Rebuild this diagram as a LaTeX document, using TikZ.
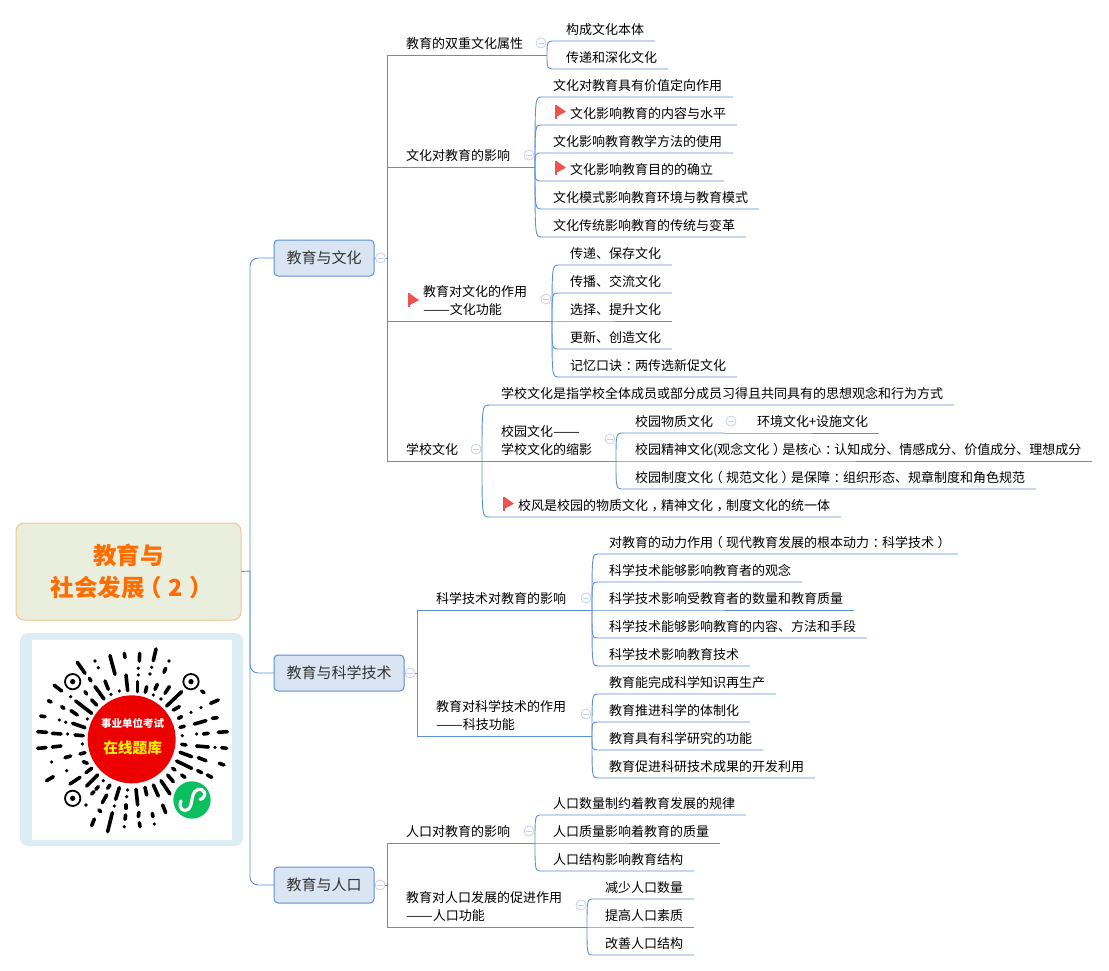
\documentclass[tikz,border=0pt]{standalone}
\usepackage{fontspec}
\setmainfont{Noto Sans CJK SC}
\usetikzlibrary{positioning}

\definecolor{linkblue}{HTML}{5B8FD6}
\definecolor{foldblue}{HTML}{C3D1EE}
\definecolor{topicfill}{HTML}{DAE5F3}
\definecolor{rootfill}{HTML}{E9EFDC}
\definecolor{rootline}{HTML}{F9C28F}
\definecolor{flagred}{HTML}{F0524F}
\definecolor{framecol}{HTML}{DCEDF3}
\definecolor{wxgreen}{HTML}{0BBF5F}

\newcommand{\pushl}[1]{\kern-.25em#1\kern.25em}
\newcommand{\pushr}[1]{\kern.28em#1\kern-.28em}
\newcommand{\longdash}{\scalebox{1.23}[1]{——}}

\begin{document}
\begin{tikzpicture}[x=1pt,y=-1pt,font=\fontsize{13pt}{18pt}\selectfont,outer sep=0pt]
  \tikzset{
    link/.style={draw=linkblue,line width=.9pt},
    root/.style={
      draw=rootline,
      fill=rootfill,
      line width=1pt,
      rounded corners=8pt,
      minimum width=225pt,
      minimum height=97pt,
      align=center,
      text=orange!85!red,
      font=\fontsize{23.5pt}{32pt}\selectfont\bfseries},
    topic/.style={
      draw=linkblue,
      fill=topicfill,
      line width=1pt,
      rounded corners=4pt,
      inner xsep=12.5pt,
      inner ysep=0pt,
      text height=23.7pt,
      text depth=12.3pt,
      anchor=west,
      text=black!80,
      font=\fontsize{15pt}{18pt}\selectfont},
    branch/.style={
      anchor=south west,
      inner xsep=0pt,
      inner ysep=5pt,
      text width=#1,
      align=left},
    leaf/.style={
      anchor=south west,
      inner xsep=11pt,
      inner ysep=0pt,
      text height=21.7pt,
      text depth=6.3pt},
    flagleaf/.style={
      leaf,
      execute at begin node={\hspace*{17pt}}},
    stack/.style={
      below=0pt of #1.south west,
      anchor=north west},
    fold/.style={
      circle,
      draw=foldblue,
      fill=white,
      line width=.8pt,
      minimum size=10pt,
      inner sep=0pt,
      path picture={\draw[foldblue,line width=.8pt]
        ([xshift=-3pt]path picture bounding box.center) --
        ([xshift=3pt]path picture bounding box.center);}},
    redflag/.pic={
      \fill[flagred] (-.5,-6) rectangle (1.5,8);
      \fill[flagred] (1.5,-6) -- (11,.7) -- (1.5,5.7) -- cycle;}}

  \useasboundingbox (0,0) rectangle (1109,971);

  % root and picture
  \node[root] (main) at (128.5,571.5) {教育与\\社会发展\pushl{（}2\pushr{）}};
  \coordinate (hub) at (250,571);

  \node[topic] (cult) at (274,258) {教育与文化};
  \node[topic] (tech) at (274,673) {教育与科学技术};
  \node[topic] (popu) at (274,885) {教育与人口};

  \coordinate (culthub) at (387,258);
  \coordinate (techhub) at (417,673);
  \coordinate (popuhub) at (387,885);

  % culture
  \node[branch=141pt] (dual) at (406,55) {教育的双重文化属性};
  \node[leaf] (dual1) at (555,41) {构成文化本体};
  \node[leaf,stack=dual1] (dual2) {传递和深化文化};

  \node[branch=129pt] (infl) at (406,167) {文化对教育的影响};
  \node[leaf] (infl1) at (542,97) {文化对教育具有价值定向作用};
  \node[flagleaf,stack=infl1] (infl2) {文化影响教育的内容与水平};
  \node[leaf,stack=infl2] (infl3) {文化影响教育教学方法的使用};
  \node[flagleaf,stack=infl3] (infl4) {文化影响教育目的的确立};
  \node[leaf,stack=infl4] (infl5) {文化模式影响教育环境与教育模式};
  \node[leaf,stack=infl5] (infl6) {文化传统影响教育的传统与变革};

  \node[branch=129pt] (func) at (423,321) {教育对文化的作用\\\longdash 文化功能};
  \node[leaf] (func1) at (559,265) {传递、保存文化};
  \node[leaf,stack=func1] (func2) {传播、交流文化};
  \node[leaf,stack=func2] (func3) {选择、提升文化};
  \node[leaf,stack=func3] (func4) {更新、创造文化};
  \node[leaf,stack=func4] (func5) {记忆口诀\pushr{：}两传选新促文化};

  \node[branch=76pt] (scho) at (406,461) {学校文化};
  \node[leaf] (scho1) at (490,405) {学校文化是指学校全体成员或部分成员习得且共同具有的思想观念和行为方式};
  \node[branch=115pt] (camp) at (501,461) {校园文化\longdash\\学校文化的缩影};
  \node[flagleaf] (scho3) at (490,517) {校风是校园的物质文化\pushr{，}精神文化\pushr{，}制度文化的统一体};
  \node[leaf] (camp1) at (624,433) {校园物质文化};
  \node[leaf,stack=camp1] (camp2) {校园精神文化(观念文化\pushr{）}是核心\pushr{：}认知成分、情感成分、价值成分、理想成分};
  \node[leaf,stack=camp2] (camp3) {校园制度文化\pushl{（}规范文化\pushr{）}是保障\pushr{：}组织形态、规章制度和角色规范};
  \node[leaf] (camp4) at (746,433) {环境文化+设施文化};

  % science
  \node[branch=156pt] (driv) at (436,610) {科学技术对教育的影响};
  \node[leaf] (driv1) at (598,554) {对教育的动力作用\pushl{（}现代教育发展的根本动力\pushr{：}科学技术\pushr{）}};
  \node[leaf,stack=driv1] (driv2) {科学技术能够影响教育者的观念};
  \node[leaf,stack=driv2] (driv3) {科学技术影响受教育者的数量和教育质量};
  \node[leaf,stack=driv3] (driv4) {科学技术能够影响教育的内容、方法和手段};
  \node[leaf,stack=driv4] (driv5) {科学技术影响教育技术};

  \node[branch=156pt] (tfun) at (436,736) {教育对科学技术的作用\\\longdash 科技功能};
  \node[leaf] (tfun1) at (598,694) {教育能完成科学知识再生产};
  \node[leaf,stack=tfun1] (tfun2) {教育推进科学的体制化};
  \node[leaf,stack=tfun2] (tfun3) {教育具有科学研究的功能};
  \node[leaf,stack=tfun3] (tfun4) {教育促进科研技术成果的开发利用};

  % population
  \node[branch=129pt] (pinf) at (406,843) {人口对教育的影响};
  \node[leaf] (pinf1) at (542,815) {人口数量制约着教育发展的规律};
  \node[leaf,stack=pinf1] (pinf2) {人口质量影响着教育的质量};
  \node[leaf,stack=pinf2] (pinf3) {人口结构影响教育结构};

  \node[branch=181pt] (pfun) at (406,927) {教育对人口发展的促进作用\\\longdash 人口功能};
  \node[leaf] (pfun1) at (594,899) {减少人口数量};
  \node[leaf,stack=pfun1] (pfun2) {提高人口素质};
  \node[leaf,stack=pfun2] (pfun3) {改善人口结构};

  % connectors
  \draw[link] (main.east) -- (hub);
  \draw[link,rounded corners=8pt] (cult.west) -| (hub) |- (popu.west);
  \draw[link,rounded corners=8pt] (hub) |- (tech.west);

  \draw[link] (cult.east) -- (culthub);
  \draw[link] (tech.east) -- (techhub);
  \draw[link] (popu.east) -- (popuhub);
  \draw[link] (culthub |- dual.south) -- (culthub |- scho.south);
  \draw[link] (techhub |- driv.south) -- (techhub |- tfun.south);
  \draw[link] (popuhub |- pinf.south) -- (popuhub |- pfun.south);

  \foreach \b/\h in {dual/culthub,infl/culthub,func/culthub,scho/culthub,
      driv/techhub,tfun/techhub,pinf/popuhub,pfun/popuhub}
    \draw[link] (\h |- \b.south) -- (\b.south east);
  \draw[link] (scho.south east) -- (camp.south east);

  \foreach \b/\l in {dual/dual1,dual/dual2,
      infl/infl1,infl/infl2,infl/infl3,infl/infl4,infl/infl5,infl/infl6,
      func/func1,func/func2,func/func3,func/func4,func/func5,
      scho/scho1,scho/scho3,camp/camp1,camp/camp2,camp/camp3,
      driv/driv1,driv/driv2,driv/driv3,driv/driv4,driv/driv5,
      tfun/tfun1,tfun/tfun2,tfun/tfun3,tfun/tfun4,
      pinf/pinf1,pinf/pinf2,pinf/pinf3,
      pfun/pfun1,pfun/pfun2,pfun/pfun3}
    \draw[link] (\b.south east) .. controls (\b.south east |- \l.south west) .. (\l.south west) -- (\l.south east);
  \draw[link] (camp1.south east) -- (camp4.south west) -- (camp4.south east);

  % fold marks
  \node[fold] (fcult) at ([xshift=6.5pt]cult.east) {};
  \node[fold] (ftech) at ([xshift=6pt]tech.east) {};
  \node[fold] (fpopu) at ([xshift=6pt]popu.east) {};
  \foreach \b in {dual,infl,scho,driv,pinf}
    \node[fold] (f\b) at ([xshift=-6pt,yshift=12pt]\b.south east) {};
  \foreach \b in {func,camp,tfun,pfun}
    \node[fold] (f\b) at ([xshift=-6pt,yshift=22pt]\b.south east) {};
  \node[fold] (fcamp1) at ([xshift=7pt,yshift=12pt]camp1.south east) {};

  % flags
  \foreach \l in {infl2,infl4,scho3}
    \pic at ([xshift=13pt]\l.west) {redflag};
  \pic at ([xshift=-15pt,yshift=1.5pt]func.west) {redflag};

  % code picture
  \fill[framecol,rounded corners=8pt] (20,633) rectangle (243,846);
  \fill[white] (32,640) rectangle (232,840);
  \begin{scope}[shift={(0,500)},x=1pt/3,y=-1pt/3]
    \foreach \xa/\ya/\xb/\yb in {232/487/255/520,285/483/285/483,295/503/295/503,330/467/345/523,
        373/460/375/473,419/460/418/483,468/447/460/482,507/483/507/483,497/505/492/517,
        415/505/415/505,415/525/415/525,455/502/455/502,450/522/450/522,378/525/383/572,
        315/543/325/568,268/535/273/543,163/556/185/573,255/575/260/582,285/560/312/597,
        333/583/333/583,358/573/358/573,413/545/413/575,440/560/436/577,472/553/465/568,
        460/585/460/585,508/560/495/580,545/575/500/618,483/597/483/597,605/573/612/578,
        227/603/275/640,275/600/290/615,212/590/212/590,145/602/153/606,185/620/192/625,
        213/632/232/645,655/600/632/610,520/630/538/620,535/655/545/650,573/637/573/637,
        603/623/603/623,122/648/135/650,178/660/178/660,197/667/197/667,218/670/255/683,
        262/657/262/657,583/672/618/662,637/655/652/653,540/682/553/679,113/695/140/697,
        157/700/183/702,203/702/203/702,225/705/250/707,655/697/682/695,590/702/590/702,
        610/702/625/700,547/707/547/707,113/745/138/743,157/741/183/738,247/732/247/732,
        545/733/558/735,590/738/625/741,645/742/645/742,665/743/680/745,195/773/212/768,
        240/762/255/758,540/757/575/770,595/773/618/782,155/786/155/786,250/785/262/790,
        530/783/575/805,658/790/672/795,200/812/200/812,258/818/275/805,210/852/240/832,
        140/842/160/830,260/858/293/825,518/805/525/810,545/825/555/832,593/812/605/818,
        622/825/635/832,503/825/520/845,310/842/310/842,288/868/295/860,323/865/330/855,
        258/915/258/915,275/882/282/875,307/908/320/885,358/863/347/898,383/870/383/870,
        380/890/380/890,408/868/413/915,435/862/440/885,460/855/475/888,483/842/510/882,
        343/918/343/918,378/915/378/925,297/930/302/935,283/957/275/977,337/938/323/995,
        377/945/375/958,373/980/373/980,417/937/415/950,418/968/420/980,457/940/459/950,
        463/972/463/972,488/915/497/938}
      \draw[line width=3.6pt,line cap=round] (\xa,\ya) -- (\xb,\yb);
    \foreach \xa/\ya in {218/545,573/545,218/895} {
      \draw[line width=1.8pt] (\xa,\ya) circle (23);
      \fill (\xa,\ya) circle (8);}
    \fill[red!93!black] (395,718) circle (132);
    \fill[wxgreen] (576,900) circle (56);
    \draw[white,line width=3.2pt,line cap=round] (543,903) .. controls (533,925) and (553,940) .. (566,927) .. controls (578,915) and (572,895) .. (584,875) .. controls (596,860) and (620,870) .. (613,888) .. controls (610,895) and (605,897) .. (600,898);
    \node[text=white,font=\fontsize{10.5pt}{12pt}\selectfont\bfseries] (codetop) at (398,670) {事业单位考试};
    \node[text=yellow,font=\fontsize{14.7pt}{16pt}\selectfont\bfseries] (codebot) at (398,745) {在线题库};
  \end{scope}

\end{tikzpicture}
\end{document}
